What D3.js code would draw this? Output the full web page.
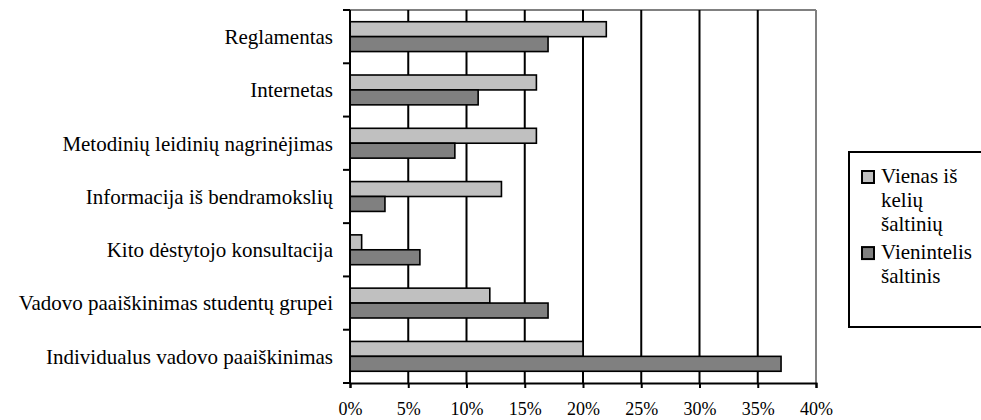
<!DOCTYPE html>
<html>
<head>
<meta charset="utf-8">
<script src="https://cdn.jsdelivr.net/npm/d3@7"></script>
<style>
  body { margin: 0; background: #fff; }
</style>
</head>
<body>
<div id="chart"></div>
<script>
// categories top to bottom
var categories = [
  "Reglamentas",
  "Internetas",
  "Metodinių leidinių nagrinėjimas",
  "Informacija iš bendramokslių",
  "Kito dėstytojo konsultacija",
  "Vadovo paaiškinimas studentų grupei",
  "Individualus vadovo paaiškinimas"
];
var seriesNames = ["Vienas iš kelių šaltinių", "Vienintelis šaltinis"];
var legendLines = [["Vienas iš", "kelių", "šaltinių"], ["Vienintelis", "šaltinis"]];
var oneOfMany = [22, 16, 16, 13, 1, 12, 20];
var onlySource = [17, 11, 9, 3, 6, 17, 37];
var xTicks = [0, 5, 10, 15, 20, 25, 30, 35, 40];
var colors = ["#c0c0c0", "#808080"];

var FONT = "'Liberation Serif', 'Times New Roman', Times, serif";
var width = 981, height = 420;
var margin = {top: 10, right: 165, bottom: 37, left: 350};
var plotW = width - margin.left - margin.right;
var plotH = height - margin.top - margin.bottom;

var svg = d3.select("#chart").append("svg")
    .attr("width", width)
    .attr("height", height)
    .style("font-family", FONT);

var g = svg.append("g")
    .attr("transform", "translate(" + margin.left + "," + margin.top + ")");

var x = d3.scaleLinear().domain([0, 40]).range([0, plotW]);
var y = d3.scaleBand().domain(categories).range([0, plotH]).paddingInner(0.44).paddingOuter(0.22);
var ySub = d3.scaleBand().domain([0, 1]).range([0, y.bandwidth()]);

//plot border (gray on top / right)
g.append("line").attr("x1", 0).attr("x2", plotW).attr("y1", 0).attr("y2", 0)
    .attr("stroke", "#808080").attr("stroke-width", 2);
g.append("line").attr("x1", plotW).attr("x2", plotW).attr("y1", 0).attr("y2", plotH)
    .attr("stroke", "#808080").attr("stroke-width", 2);

//gridlines
g.selectAll(".grid")
    .data(xTicks.filter(function(d){ return d > 0 && d < 40; }))
    .enter().append("line")
    .attr("class", "grid")
    .attr("x1", function(d){ return x(d); })
    .attr("x2", function(d){ return x(d); })
    .attr("y1", 0).attr("y2", plotH)
    .attr("stroke", "#000").attr("stroke-width", 2);

//bars
var data = [];
categories.forEach(function(c, i){
  data.push({cat: c, s: 0, v: oneOfMany[i]});
  data.push({cat: c, s: 1, v: onlySource[i]});
});
g.selectAll(".bar")
    .data(data)
    .enter().append("rect")
    .attr("class", "bar")
    .attr("x", x(0))
    .attr("y", function(d){ return y(d.cat) + ySub(d.s); })
    .attr("width", function(d){ return x(d.v) - x(0); })
    .attr("height", ySub.bandwidth())
    .attr("fill", function(d){ return colors[d.s]; })
    .attr("stroke", "#000").attr("stroke-width", 1.6);

//x axis
var xAxis = d3.axisBottom(x).tickValues(xTicks).tickSize(5).tickPadding(14)
    .tickFormat(function(d){ return d + "%"; });
var gx = g.append("g").attr("transform", "translate(0," + plotH + ")").call(xAxis)
    .attr("font-family", null).attr("font-size", null);
gx.select(".domain").attr("stroke", "#000").attr("stroke-width", 2);
gx.selectAll(".tick line").attr("stroke", "#000").attr("stroke-width", 2);
gx.selectAll("text").style("font-size", "18px").style("font-family", FONT).attr("fill", "#000");

//y axis: ticks at category boundaries
var bounds = d3.range(categories.length + 1).map(function(i){ return i * plotH / categories.length; });
g.append("line").attr("x1", 0).attr("x2", 0).attr("y1", 0).attr("y2", plotH)
    .attr("stroke", "#000").attr("stroke-width", 2);
g.selectAll(".ytick")
    .data(bounds)
    .enter().append("line")
    .attr("x1", -7).attr("x2", 0)
    .attr("y1", function(d){ return d; }).attr("y2", function(d){ return d; })
    .attr("stroke", "#000").attr("stroke-width", 2);
g.selectAll(".ylabel")
    .data(categories)
    .enter().append("text")
    .attr("x", -17)
    .attr("y", function(d){ return y(d) + y.bandwidth() / 2; })
    .attr("dy", "0.35em")
    .attr("text-anchor", "end")
    .style("font-family", FONT)
    .style("font-size", "21px")
    .text(function(d){ return d; });

//legend (right edge runs off the picture)
var lg = svg.append("g").attr("transform", "translate(849,152)");
lg.append("rect").attr("x", 0).attr("y", 0).attr("width", 140).attr("height", 175)
    .attr("fill", "#fff").attr("stroke", "#000").attr("stroke-width", 2);
var lineH = 24;
var row = 0;
seriesNames.forEach(function(name, i){
  var top = 24 + row * lineH;
  lg.append("rect").attr("x", 13).attr("y", top - 5).attr("width", 12).attr("height", 12)
      .attr("fill", colors[i]).attr("stroke", "#000").attr("stroke-width", 2);
  legendLines[i].forEach(function(t, j){
    lg.append("text").attr("x", 32).attr("y", top + j * lineH).attr("dy", "0.35em")
        .style("font-family", FONT)
        .style("font-size", "21px").text(t);
  });
  row += legendLines[i].length;
  row += 0.17;
});
</script>
</body>
</html>
